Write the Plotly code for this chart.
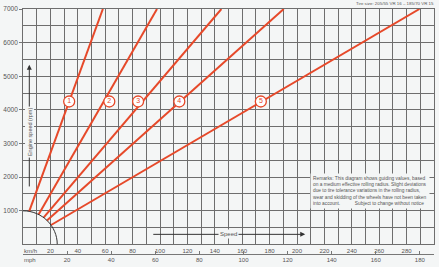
import plotly.graph_objects as go

# ---- data ----
gears = ["1", "2", "3", "4", "5"]
start_kmh = [4.5, 11.4, 15.0, 17.5, 20.5]
start_rpm = [985, 890, 795, 712, 578]
end_kmh = [58.3, 97.8, 144.8, 190.3, 289.4]
end_rpm = [7000, 7000, 7000, 7000, 7000]
label_kmh = [33.7, 63.0, 84.0, 114.1, 173.6]
label_rpm = [4250, 4250, 4250, 4250, 4250]

kmh_ticks = list(range(20, 301, 20))
mph_ticks = list(range(20, 181, 20))
rpm_ticks = list(range(1000, 7001, 1000))

KMH_PER_MPH = 1.609344
BG = "#f4f6f6"
RED = "#e6492a"
GRID = "#6e6e6e"
TXT = "#555555"
FONT = "Liberation Sans, Arial, sans-serif"

fig = go.Figure()

for g, sx, sy, ex, ey in zip(gears, start_kmh, start_rpm, end_kmh, end_rpm):
    fig.add_trace(go.Scatter(x=[sx, ex], y=[sy, ey], mode="lines",
                             line=dict(color=RED, width=2), hoverinfo="skip",
                             showlegend=False))

fig.add_trace(go.Scatter(
    x=label_kmh, y=label_rpm, mode="markers+text", text=gears,
    textposition="middle center",
    textfont=dict(color=RED, size=7, family=FONT),
    marker=dict(size=11, color="white", line=dict(color=RED, width=1.3)),
    showlegend=False, hoverinfo="skip"))

# dummy trace for the mph axis
fig.add_trace(go.Scatter(x=[0, 300 / KMH_PER_MPH], y=[None, None], xaxis="x2",
                         mode="markers", showlegend=False, hoverinfo="skip"))

# quarter arc near origin
fig.add_shape(type="path", xref="x", yref="y",
              path="M 0,1000 C 13.8,1000 25,552 25,0",
              line=dict(color="#333333", width=1))

# Engine speed arrow
fig.add_annotation(x=4.6, y=5340, ax=4.6, ay=1680, xref="x", yref="y",
                   axref="x", ayref="y", text="", showarrow=True,
                   arrowhead=2, arrowsize=1, arrowwidth=1, arrowcolor="#333333")
fig.add_annotation(x=4.6, y=3350, xref="x", yref="y", text="Engine speed (rpm)",
                   textangle=-90, showarrow=False, bgcolor=BG,
                   font=dict(size=5.5, color=TXT, family=FONT))

# Speed arrow
fig.add_annotation(x=206, y=300, ax=94, ay=300, xref="x", yref="y",
                   axref="x", ayref="y", text="", showarrow=True,
                   arrowhead=2, arrowsize=1, arrowwidth=1, arrowcolor="#333333")
fig.add_annotation(x=150, y=300, xref="x", yref="y", text="Speed",
                   showarrow=False, bgcolor=BG,
                   font=dict(size=6, color=TXT, family=FONT))

# Remarks box
remarks = ("Remarks: This diagram shows guiding values, based<br>"
           "on a medium effective rolling radius. Slight deviations<br>"
           "due to tire tolerance variations in the rolling radius,<br>"
           "wear and skidding of the wheels have not been taken<br>"
           "into account.&nbsp;&nbsp;&nbsp;&nbsp;&nbsp;&nbsp;&nbsp;&nbsp;&nbsp;&nbsp;&nbsp;"
           "Subject to change without notice")
fig.add_annotation(x=297, y=1590, xref="x", yref="y", xanchor="right",
                   yanchor="middle", text=remarks, showarrow=False, align="left",
                   bgcolor=BG, borderpad=2,
                   font=dict(size=4.8, color=TXT, family=FONT))

# Tire size
fig.add_annotation(x=1.006, y=1.024, xref="paper", yref="paper", xanchor="right",
                   yanchor="middle", text="Tire size: 205/55 VR 16 \u2013 185/70 VR 15",
                   showarrow=False, font=dict(size=4.4, color=TXT, family=FONT))

# unit labels
fig.add_annotation(x=-0.002, y=0.0125, xref="paper", yref="paper", xanchor="left",
                   yanchor="middle", text="km/h", showarrow=False,
                   font=dict(size=6, color=TXT, family=FONT))
fig.add_annotation(x=-0.002, y=-0.024, xref="paper", yref="paper", xanchor="left",
                   yanchor="middle", text="mph", showarrow=False,
                   font=dict(size=6, color=TXT, family=FONT))

fig.update_layout(
    width=439, height=267,
    margin=dict(l=23, r=5, t=9, b=13, autoexpand=False),
    paper_bgcolor=BG, plot_bgcolor=BG,
    font=dict(family=FONT, color=TXT, size=6),
    xaxis=dict(range=[0, 300], tickmode="array", tickvals=kmh_ticks,
               automargin=False,
               showgrid=True, gridcolor=GRID, gridwidth=0.8,
               minor=dict(tick0=0, dtick=10, showgrid=True, gridcolor=GRID,
                          gridwidth=0.8),
               showline=True, linecolor=GRID, linewidth=0.8, mirror=True,
               ticks="", ticklen=0, ticklabelstandoff=0, zeroline=False,
               tickfont=dict(size=6, color=TXT), anchor="y"),
    xaxis2=dict(range=[0, 300 / KMH_PER_MPH], tickmode="array", tickvals=mph_ticks,
                automargin=False,
                overlaying="x", anchor="free", position=0, side="bottom",
                showgrid=False, showline=True, linecolor="#777777", linewidth=0.8,
                ticks="inside", ticklen=3, tickcolor="#777777",
                ticklabelstandoff=0,
                tickfont=dict(size=6, color=TXT), zeroline=False),
    yaxis=dict(range=[0, 7000], domain=[0.039, 1], tickmode="array",
               automargin=False,
               tickvals=rpm_ticks, showgrid=True, gridcolor=GRID, gridwidth=0.8,
               minor=dict(tick0=0, dtick=500, showgrid=True, gridcolor=GRID,
                          gridwidth=0.8),
               showline=True, linecolor=GRID, linewidth=0.8, mirror=True,
               ticks="outside", ticklen=3, tickcolor="#777777",
               zeroline=False, tickfont=dict(size=6.5, color=TXT)),
)

fig.write_html(
    "out.html",
    config={"displayModeBar": False},
    post_script="document.body.style.margin='0';document.body.style.padding='0';"
                "document.body.style.overflow='hidden';",
)
